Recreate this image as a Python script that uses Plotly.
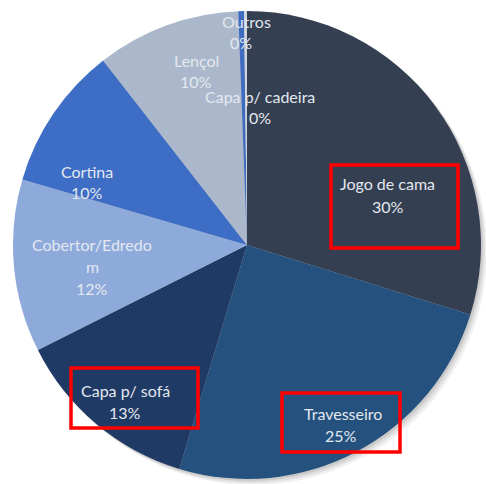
import plotly.graph_objects as go

W, H = 486, 484

# Data
categories = ["Jogo de cama", "Travesseiro", "Capa p/ sofá", "Cobertor/Edredom",
              "Cortina", "Lençol", "Outros", "Capa p/ cadeira"]
values = [30, 25, 13, 12, 10, 10, 0.4, 0.2]
label_lines = [["Jogo de cama"], ["Travesseiro"], ["Capa p/ sofá"], ["Cobertor/Edredo", "m"],
               ["Cortina"], ["Lençol"], ["Outros"], ["Capa p/ cadeira"]]

colors = ["#353f52", "#24517d", "#203a66", "#8eaadb", "#3e6dc5", "#abb8cb", "#3f6cbf", "#cfd6e0"]

# line centres (pixels, top-left origin) for each label's lines (name lines + percent)
line_pos = [
    [(387, 183), (388, 206)],
    [(343, 413), (341, 435)],
    [(125, 390), (125, 412)],
    [(92, 244), (92, 266), (92, 288)],
    [(87, 172), (87, 193)],
    [(196, 61), (196, 81)],
    [(247, 22), (241, 43)],
    [(260, 97), (260, 118)],
]

total = sum(values)
pcts = [f"{round(v / total * 100):.0f}%" for v in values]

cx, cy, r = 247, 245, 234

fig = go.Figure()
fig.add_trace(go.Pie(
    labels=categories, values=values, sort=False, direction="clockwise", rotation=0,
    marker=dict(colors=colors, line=dict(width=0)), textinfo="none",
    domain=dict(x=[(cx - r) / W, (cx + r) / W], y=[1 - (cy + r) / H, 1 - (cy - r) / H]),
    showlegend=False,
))

annotations = []
for lines, pct, poss in zip(label_lines, pcts, line_pos):
    for t, (x, y) in zip(lines + [pct], poss):
        annotations.append(dict(
            x=x / W, y=1 - y / H, xref="paper", yref="paper",
            text=t, showarrow=False, xanchor="center", yanchor="middle",
            font=dict(family="Lato, Open Sans, sans-serif", size=16, color="#e3e8ef"),
        ))

shapes = []
# soft shadow
for off, op in [(6, 0.10), (4, 0.15), (2, 0.2)]:
    shapes.append(dict(type="circle", xref="paper", yref="paper", layer="below",
                       x0=(cx - r + off) / W, x1=(cx + r + off) / W,
                       y0=1 - (cy + r + off) / H, y1=1 - (cy - r + off) / H,
                       fillcolor=f"rgba(120,120,120,{op})", line=dict(width=0)))
# red boxes
for x0, y0, x1, y1 in [(331, 165, 458, 248), (71, 368, 198, 428), (282, 393, 400, 452)]:
    shapes.append(dict(type="rect", xref="paper", yref="paper",
                       x0=x0 / W, x1=x1 / W, y0=1 - y1 / H, y1=1 - y0 / H,
                       line=dict(color="#ff0000", width=3.5)))

fig.update_layout(
    width=W, height=H, margin=dict(l=0, r=0, t=0, b=0),
    paper_bgcolor="white", plot_bgcolor="white",
    annotations=annotations, shapes=shapes,
)

fig.write_html("out.html", config={"displayModeBar": False},
               post_script="document.body.style.margin='0';document.body.style.overflow='hidden';")
